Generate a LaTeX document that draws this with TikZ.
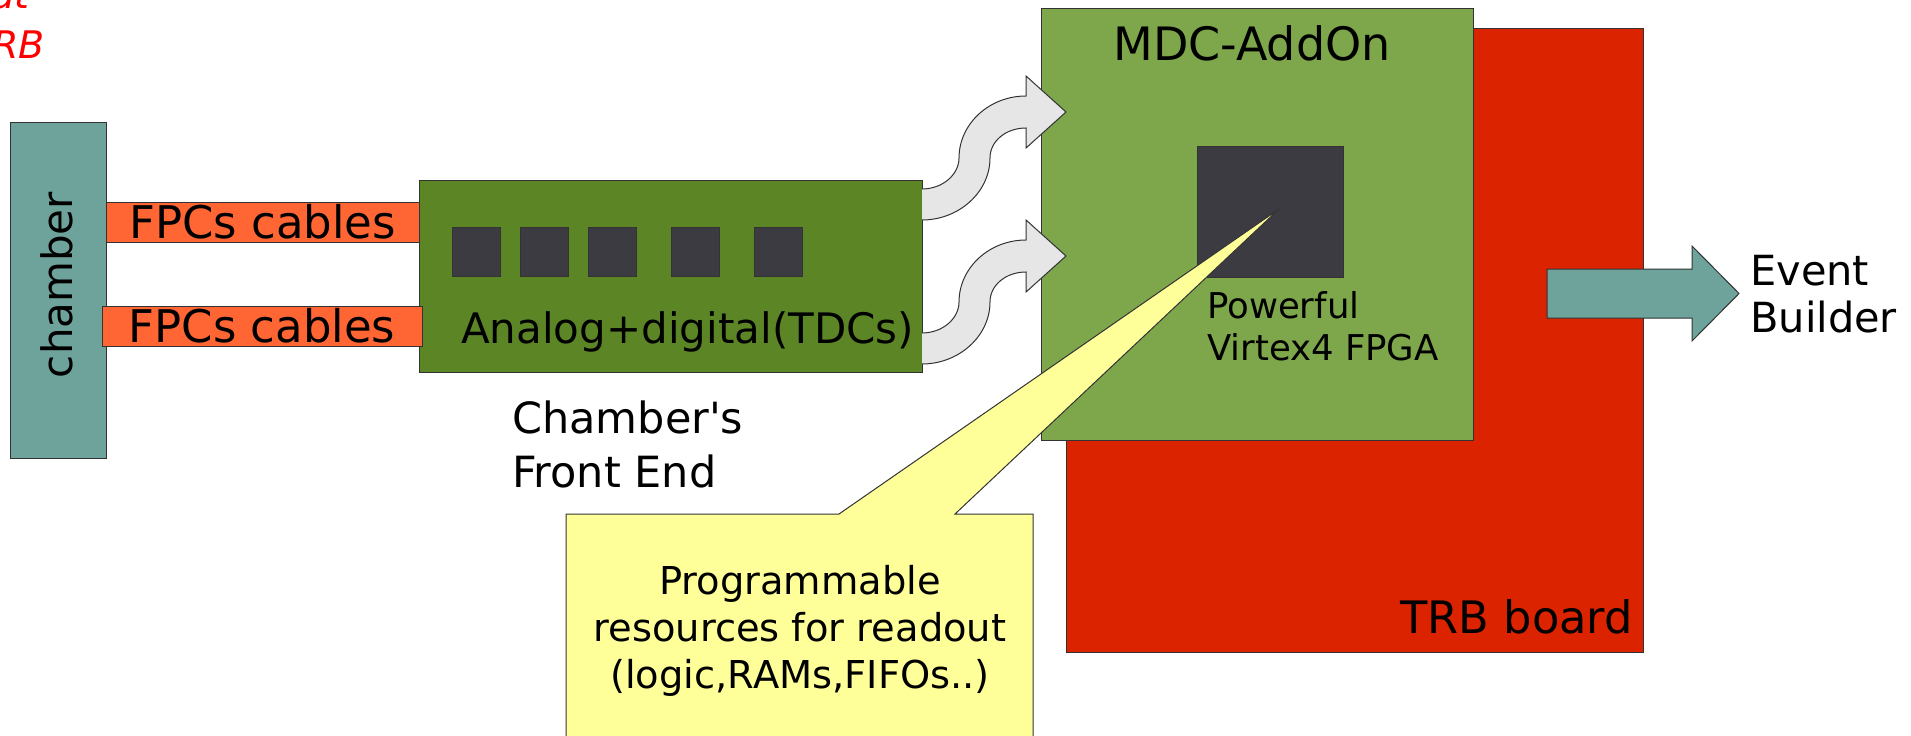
\documentclass[tikz,border=0pt]{standalone}
\usepackage{fontspec}
\setmainfont{DejaVu Sans}
\usepackage{tikz}

\definecolor{chambercol}{RGB}{110,163,155}
\definecolor{cablecol}{RGB}{255,102,51}
\definecolor{fecol}{RGB}{92,133,38}
\definecolor{addoncol}{RGB}{126,166,74}
\definecolor{chipcol}{RGB}{60,59,66}
\definecolor{trbcol}{RGB}{220,35,0}
\definecolor{notecol}{RGB}{255,255,153}
\definecolor{flowcol}{RGB}{230,230,230}

\begin{document}
\begin{tikzpicture}[
  x=1pt, y=-1pt,
  box/.style={draw=black!80, line width=1pt, inner sep=0pt, outer sep=0pt},
  chip/.style={box, fill=chipcol, minimum width=48pt, minimum height=49pt},
  cable/.style={box, fill=cablecol, minimum height=40pt, font=\fontsize{45}{50}\selectfont},
  lbl/.style={inner sep=0pt, font=\fontsize{42}{54}\selectfont},
  flow/.style={draw=black!80, line width=1pt, fill=flowcol}
]
  \clip (0,0) rectangle (1911,736);

  % chamber + front end
  \node[box, fill=chambercol, minimum width=96pt, minimum height=336pt] (chamber) at (58,290) {};
  \node[lbl, rotate=90, anchor=base, font=\fontsize{42}{50}\selectfont] (chamberlbl) at (72,285) {chamber};
  \node[box, fill=fecol, minimum width=503pt, minimum height=192pt] (fe) at (670.5,276) {};
  \node[cable, minimum width=313pt] (fpc1) at (262.5,222) {FPCs cables};
  \node[cable, minimum width=320pt] (fpc2) at (262,326) {FPCs cables};
  \foreach \cx [count=\i] in {476,544,612,695,778.5}
    \node[chip] (tdc\i) at (\cx,251.5) {};
  \node[lbl, anchor=base] (felbl) at (687.5,343) {Analog+digital(TDCs)};
  \node[lbl, anchor=north west, align=left, font=\fontsize{43}{54}\selectfont] (fename) at (512,400.3) {Chamber\textquotesingle s\\Front End};

  % readout boards
  \node[box, fill=trbcol, minimum width=577pt, minimum height=624pt] (trb) at (1354.5,340) {};
  \node[box, fill=addoncol, minimum width=432pt, minimum height=432pt] (addon) at (1257,224) {};
  \node[box, fill=chipcol, minimum width=146pt, minimum height=131pt] (fpga) at (1270,211.5) {};
  \node[lbl, anchor=base, font=\fontsize{46}{50}\selectfont] (addonlbl) at (1252,60) {MDC-AddOn};
  \node[lbl, anchor=north west, align=left, font=\fontsize{35.5}{42}\selectfont] (fpgalbl) at (1207,291) {Powerful\\Virtex4 FPGA};
  \node[lbl, anchor=base east, font=\fontsize{44.7}{50}\selectfont] (trblbl) at (1633,633) {TRB board};

  % data flow
  \foreach \dy in {0,144}
    \draw[flow, shift={(0,\dy)}] (922,189) .. controls (942,189) and (959,175) .. (959,158)
      .. controls (959,124) and (989,96) .. (1026,96) -- (1026,76) -- (1066,112) -- (1026,148) -- (1026,128)
      .. controls (1006,128) and (990,141) .. (990,158)
      .. controls (990,192) and (959,220) .. (922,220);
  \draw[flow, fill=chambercol] (1547,269) -- (1692,269) -- (1692,246) -- (1739,293.5)
    -- (1692,341) -- (1692,318) -- (1547,318) -- cycle;
  \node[lbl, anchor=north west, align=left, font=\fontsize{41.5}{47}\selectfont] (evb) at (1750,255) {Event\\Builder};

  % callout
  \draw[box, fill=notecol] (566,745) -- (566,514) -- (839,514) -- (1279,209) -- (955,514)
    -- (1033,514) -- (1033,745) -- cycle;
  \node[lbl, anchor=north, align=center, font=\fontsize{38.4}{47}\selectfont] (notelbl) at (800,565)
    {Programmable\\resources for readout\\(logic,RAMs,FIFOs..)};

  \node[lbl, anchor=base east, text=red, font=\fontsize{38}{49}\selectfont\itshape] (title1) at (30,9) {at};
  \node[lbl, anchor=base east, text=red, font=\fontsize{38}{49}\selectfont\itshape] (title2) at (45,58) {TRB};
\end{tikzpicture}
\end{document}
